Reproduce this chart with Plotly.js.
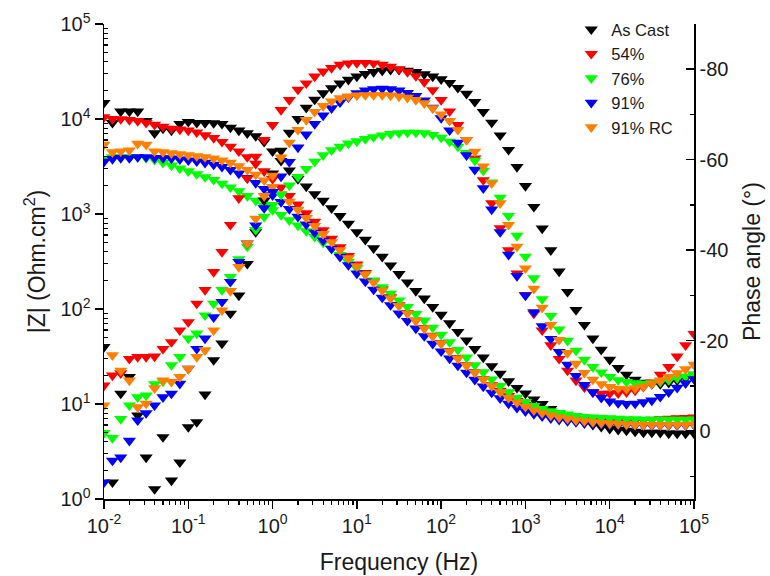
<!DOCTYPE html>
<html><head><meta charset="utf-8">
<script src="https://cdn.plot.ly/plotly-3.0.1.min.js"></script>
<style>html,body{margin:0;padding:0;background:#fff}</style>
</head><body><div id="chart" style="width:770px;height:576px"></div>
<script>
// Frequencies (Hz), 10 points per decade
const freq = [0.01, 0.0126, 0.0158, 0.02, 0.0251, 0.0316, 0.0398, 0.0501, 0.0631, 0.0794,
  0.1, 0.126, 0.158, 0.2, 0.251, 0.316, 0.398, 0.501, 0.631, 0.794,
  1, 1.26, 1.58, 2, 2.51, 3.16, 3.98, 5.01, 6.31, 7.94,
  10, 12.6, 15.8, 20, 25.1, 31.6, 39.8, 50.1, 63.1, 79.4,
  100, 126, 158, 200, 251, 316, 398, 501, 631, 794,
  1000, 1260, 1580, 2000, 2510, 3160, 3980, 5010, 6310, 7940,
  10000, 12600, 15800, 20000, 25100, 31600, 39800, 50100, 63100, 79400,
  100000];

const seriesNames = ['As Cast', '54%', '76%', '91%', '91% RC'];
const seriesColors = ['#000000', '#ff0000', '#00ff00', '#0000ff', '#ff8000'];

// |Z| (Ohm.cm2)
const zAsCast = [14800, 9120, 12000, 12000, 12000, 9550, 7080, 7940, 7590, 8910,
  9330, 9120, 9100, 9050, 8910, 8130, 7590, 7080, 6610, 5750,
  4570, 3630, 2880, 2340, 1950, 1620, 1380, 1150, 955, 794,
  646, 537, 437, 355, 288, 234, 191, 155, 129, 105,
  87.1, 70.8, 57.5, 46.8, 38.0, 30.9, 25.1, 20.9, 17.4, 14.8,
  12.9, 11.2, 10.0, 8.91, 7.94, 7.24, 6.76, 6.31, 6.03, 5.75,
  5.50, 5.37, 5.25, 5.13, 5.01, 5.00, 4.99, 4.90, 4.90, 4.89,
  4.90];
const z54 = [10470, 10000, 9980, 9770, 9550, 9120, 8710, 8320, 7940, 7760,
  7590, 7240, 6760, 6310, 5750, 5130, 4570, 3980, 3390, 2820,
  2340, 1910, 1550, 1260, 1020, 832, 676, 550, 447, 363,
  295, 240, 197, 162, 133, 110, 91.2, 75.9, 63.1, 52.5,
  43.7, 36.3, 30.5, 25.7, 21.6, 18.4, 15.8, 13.8, 12.2, 10.8,
  9.77, 9.02, 8.41, 7.94, 7.59, 7.33, 7.08, 6.92, 6.84, 6.76,
  6.68, 6.68, 6.69, 6.70, 6.76, 6.84, 6.92, 7.00, 7.08, 7.16,
  7.24];
const z76 = [3800, 3980, 3990, 3970, 3980, 3890, 3720, 3470, 3240, 3020,
  2820, 2630, 2450, 2290, 2090, 1910, 1740, 1550, 1380, 1230,
  1100, 977, 861, 759, 661, 575, 501, 432, 372, 316,
  269, 232, 200, 170, 145, 123, 105, 89.1, 75.9, 63.8,
  53.7, 44.7, 37.2, 30.9, 25.7, 21.6, 18.2, 15.5, 13.3, 11.7,
  10.5, 9.55, 8.91, 8.41, 8.04, 7.76, 7.50, 7.33, 7.24, 7.16,
  7.08, 7.00, 6.92, 6.92, 6.84, 6.84, 6.83, 6.84, 6.85, 6.86,
  6.88];
const z91 = [3550, 3800, 3890, 3880, 3980, 3970, 3890, 3880, 3850, 3760,
  3670, 3590, 3470, 3310, 3140, 2920, 2670, 2400, 2120, 1840,
  1580, 1340, 1130, 938, 776, 640, 527, 433, 355, 290,
  237, 195, 160, 132, 110, 90.2, 75.0, 62.4, 51.9, 43.2,
  35.9, 30.2, 25.4, 21.4, 18.0, 15.3, 13.2, 11.5, 10.1, 9.12,
  8.41, 7.85, 7.41, 7.08, 6.84, 6.61, 6.46, 6.31, 6.24, 6.17,
  6.10, 6.03, 6.02, 5.96, 5.96, 5.95, 5.96, 5.96, 5.97, 5.98,
  6.03];
const z91RC = [5370, 4470, 4570, 4680, 5500, 5370, 4570, 4470, 4370, 4270,
  4170, 4070, 3980, 3850, 3670, 3470, 3200, 2920, 2600, 2260,
  1930, 1620, 1350, 1110, 912, 750, 617, 507, 417, 343,
  282, 232, 191, 157, 130, 108, 90.2, 75.0, 62.4, 51.9,
  43.2, 35.9, 30.2, 25.4, 21.4, 18.2, 15.5, 13.3, 11.6, 10.4,
  9.33, 8.61, 8.04, 7.59, 7.24, 7.00, 6.76, 6.61, 6.46, 6.31,
  6.24, 6.17, 6.10, 6.03, 6.02, 6.03, 6.02, 6.03, 6.04, 6.05,
  6.10];

// Phase angle (degrees)
const pAsCast = [-18.6, 11.3, -8.3, -12, -3.5, 5.8, 12.8, 1.3, 10.9, 6.9,
  -0.9, -2, -8.1, -15.7, -19.4, -26, -30, -37, -44, -51,
  -57, -62, -66, -69, -71.5, -73.3, -74.7, -75.8, -76.9, -77.7,
  -78.4, -79, -79.4, -79.7, -79.9, -79.9, -79.7, -79.4, -78.9, -78.4,
  -77.8, -77, -75.9, -74.6, -72.8, -70.6, -68.2, -65.4, -62.2, -58.4,
  -54.2, -49.6, -44.8, -40, -35.3, -30.8, -26.8, -23.5, -20.5, -18,
  -15.8, -14, -12.5, -11.4, -10.7, -10.4, -10.4, -10.7, -11.2, -11.8,
  -12.5];
const p54 = [-10.1, -12.3, -12.8, -16, -16.4, -16.4, -16.5, -18.2, -19.7, -22.3,
  -24.1, -28.2, -31.2, -35.2, -39.6, -45.6, -51.5, -55.9, -60.7, -64.4,
  -67.7, -71, -73.2, -75.5, -76.9, -78.4, -79.5, -80.3, -81, -81.3,
  -81.4, -81.4, -81.3, -81, -80.6, -80, -79.4, -78.5, -77.2, -75.4,
  -73.2, -70.7, -67.7, -64.4, -60.3, -55.5, -50.4, -44.9, -40, -34.9,
  -30.1, -26, -22.3, -19, -16, -13.4, -11.2, -9.7, -8.6, -8.3,
  -8.3, -8.4, -8.6, -9, -9.8, -10.8, -12.5, -14.2, -16.5, -19,
  -21.5];
const p76 = [0.4, 1.5, -2.7, -5.7, -7.5, -7.9, -10.4, -11, -14.6, -16.4,
  -20.5, -21.6, -25.6, -28.2, -31.2, -34.1, -38, -40.8, -44.5, -47.4,
  -50, -52.3, -54.3, -56.2, -58, -59.6, -61, -62.1, -62.9, -63.6,
  -64.1, -64.6, -65, -65.4, -65.7, -65.9, -66, -66, -65.9, -65.5,
  -64.9, -64, -62.9, -61.5, -59.8, -57.6, -55, -51.6, -47.6, -43.2,
  -38.6, -33.8, -29.2, -25.5, -22.5, -20, -17.8, -15.8, -14.2, -13,
  -12, -11.3, -10.9, -10.6, -10.5, -10.6, -10.9, -11.3, -11.7, -12.1,
  -12.5];
const p91 = [11.3, 6.5, 5.8, 2.1, -2.4, -4, -5.7, -7.5, -8.3, -10.5,
  -13.8, -18.2, -20.5, -25.2, -28.6, -33, -37.4, -41.5, -45.5, -49.3,
  -52.9, -56.3, -59.5, -62.7, -65.6, -67.9, -69.8, -71.4, -72.7, -73.8,
  -74.7, -75.3, -75.6, -75.7, -75.6, -75.3, -74.8, -74.1, -73.1, -71.5,
  -69.2, -66.5, -63.8, -61, -57.8, -53.7, -49, -44, -39, -34.3,
  -30, -26.3, -23.2, -20.4, -17.5, -14.7, -12.2, -10.2, -8.6, -7.4,
  -6.6, -6.2, -6, -6.1, -6.4, -6.8, -7.6, -8.6, -9.6, -10.6,
  -11.5];
const p91RC = [-5.7, -16.8, -13.4, -11.2, -5.3, -6.1, -9.5, -11.2, -10.9, -12,
  -13.8, -16.4, -17.9, -22.3, -26.7, -31, -36.3, -41.5, -47, -52,
  -56.5, -60.5, -63.8, -66.6, -68.8, -70.6, -71.9, -72.9, -73.6, -74,
  -74.2, -74.3, -74.3, -74.3, -74.2, -74, -73.7, -73.2, -72.5, -71.4,
  -70, -68.6, -66.6, -64.4, -61.8, -58.5, -54.8, -50.4, -45.6, -40.8,
  -36, -31.5, -27.3, -23.5, -20.2, -17.3, -14.9, -12.9, -11.4, -10.4,
  -9.8, -9.4, -9.3, -9.5, -9.9, -10.5, -11.2, -12, -12.8, -13.7,
  -14.7];

const xTickVals = [0.01, 0.1, 1, 10, 100, 1000, 10000, 100000];
const xTickText = ['10<sup>-2</sup>', '10<sup>-1</sup>', '10<sup>0</sup>', '10<sup>1</sup>', '10<sup>2</sup>', '10<sup>3</sup>', '10<sup>4</sup>', '10<sup>5</sup>'];
const yTickVals = [1, 10, 100, 1000, 10000, 100000];
const yTickText = ['10<sup>0</sup>', '10<sup>1</sup>', '10<sup>2</sup>', '10<sup>3</sup>', '10<sup>4</sup>', '10<sup>5</sup>'];
const phaseTickVals = [-80, -60, -40, -20, 0];
const phaseTickText = ['-80', '-60', '-40', '-20', '0'];

// minor tick positions (2..9 in each decade)
function minorLog(lo, hi) {
  const out = [];
  for (let e = lo; e < hi; e++) for (let m = 2; m <= 9; m++) out.push(m * Math.pow(10, e));
  return out;
}

const zData = [zAsCast, z54, z76, z91, z91RC];
const pData = [pAsCast, p54, p76, p91, p91RC];

const traces = [];
const mk = (c) => ({symbol: 'triangle-down', size: 11.5, color: c, line: {width: 0}});
for (let s = 0; s < seriesNames.length; s++) {
  traces.push({x: freq, y: zData[s], type: 'scatter', mode: 'markers', name: seriesNames[s],
    legendgroup: seriesNames[s], showlegend: true, marker: mk(seriesColors[s]), xaxis: 'x', yaxis: 'y'});
}
for (let s = 0; s < seriesNames.length; s++) {
  traces.push({x: freq, y: pData[s], type: 'scatter', mode: 'markers', name: seriesNames[s],
    legendgroup: seriesNames[s], showlegend: false, marker: mk(seriesColors[s]), xaxis: 'x', yaxis: 'y2'});
}

const FONT = 'Liberation Sans, Arial, sans-serif';
const layout = {
  width: 770, height: 576,
  margin: {l: 104, r: 76, t: 24, b: 77},
  paper_bgcolor: '#fff', plot_bgcolor: '#fff',
  font: {family: FONT, color: '#1a1a1a', size: 20},
  showlegend: true,
  legend: {x: 0.792, y: 1.025, xanchor: 'left', yanchor: 'top', bgcolor: 'rgba(0,0,0,0)',
    font: {size: 16.5, family: FONT}, tracegroupgap: 0, itemwidth: 30},
  xaxis: {type: 'log', range: [-2, 5], tickmode: 'array', tickvals: xTickVals, ticktext: xTickText,
    ticks: 'outside', ticklen: 8, tickwidth: 1.5, tickcolor: '#000',
    showline: true, linecolor: '#000', linewidth: 1.5, showgrid: false, zeroline: false, mirror: false,
    tickfont: {size: 20}, title: {text: 'Frequency (Hz)', font: {size: 23}, standoff: 18},
    minor: {tickmode: 'array', tickvals: minorLog(-2, 5), ticks: 'outside', ticklen: 4, tickwidth: 1.2, tickcolor: '#000', showgrid: false}},
  yaxis: {type: 'log', range: [0, 5], tickmode: 'array', tickvals: yTickVals, ticktext: yTickText,
    ticks: 'outside', ticklen: 8, tickwidth: 1.5, tickcolor: '#000',
    showline: true, linecolor: '#000', linewidth: 1.5, showgrid: false, zeroline: false,
    tickfont: {size: 20}, title: {text: '|Z| (Ohm.cm<sup>2</sup>)', font: {size: 23}, standoff: 8},
    minor: {tickmode: 'array', tickvals: minorLog(0, 5), ticks: 'inside', ticklen: 4, tickwidth: 1.2, tickcolor: '#000', showgrid: false}},
  yaxis2: {overlaying: 'y', side: 'right', range: [15, -90], autorange: false, tickmode: 'array',
    tickvals: phaseTickVals, ticktext: phaseTickText,
    ticks: 'inside', ticklen: 8, tickwidth: 1.5, tickcolor: '#000',
    showline: true, linecolor: '#000', linewidth: 1.5, showgrid: false, zeroline: false,
    tickfont: {size: 20}, title: {text: 'Phase angle (°)', font: {size: 23}, standoff: 16},
    minor: {tickmode: 'array', tickvals: [-70, -50, -30, -10, 10], ticks: 'inside', ticklen: 4, tickwidth: 1.2, tickcolor: '#000', showgrid: false}}
};

Plotly.newPlot('chart', traces, layout, {staticPlot: true, displayModeBar: false});
</script>
</body></html>
